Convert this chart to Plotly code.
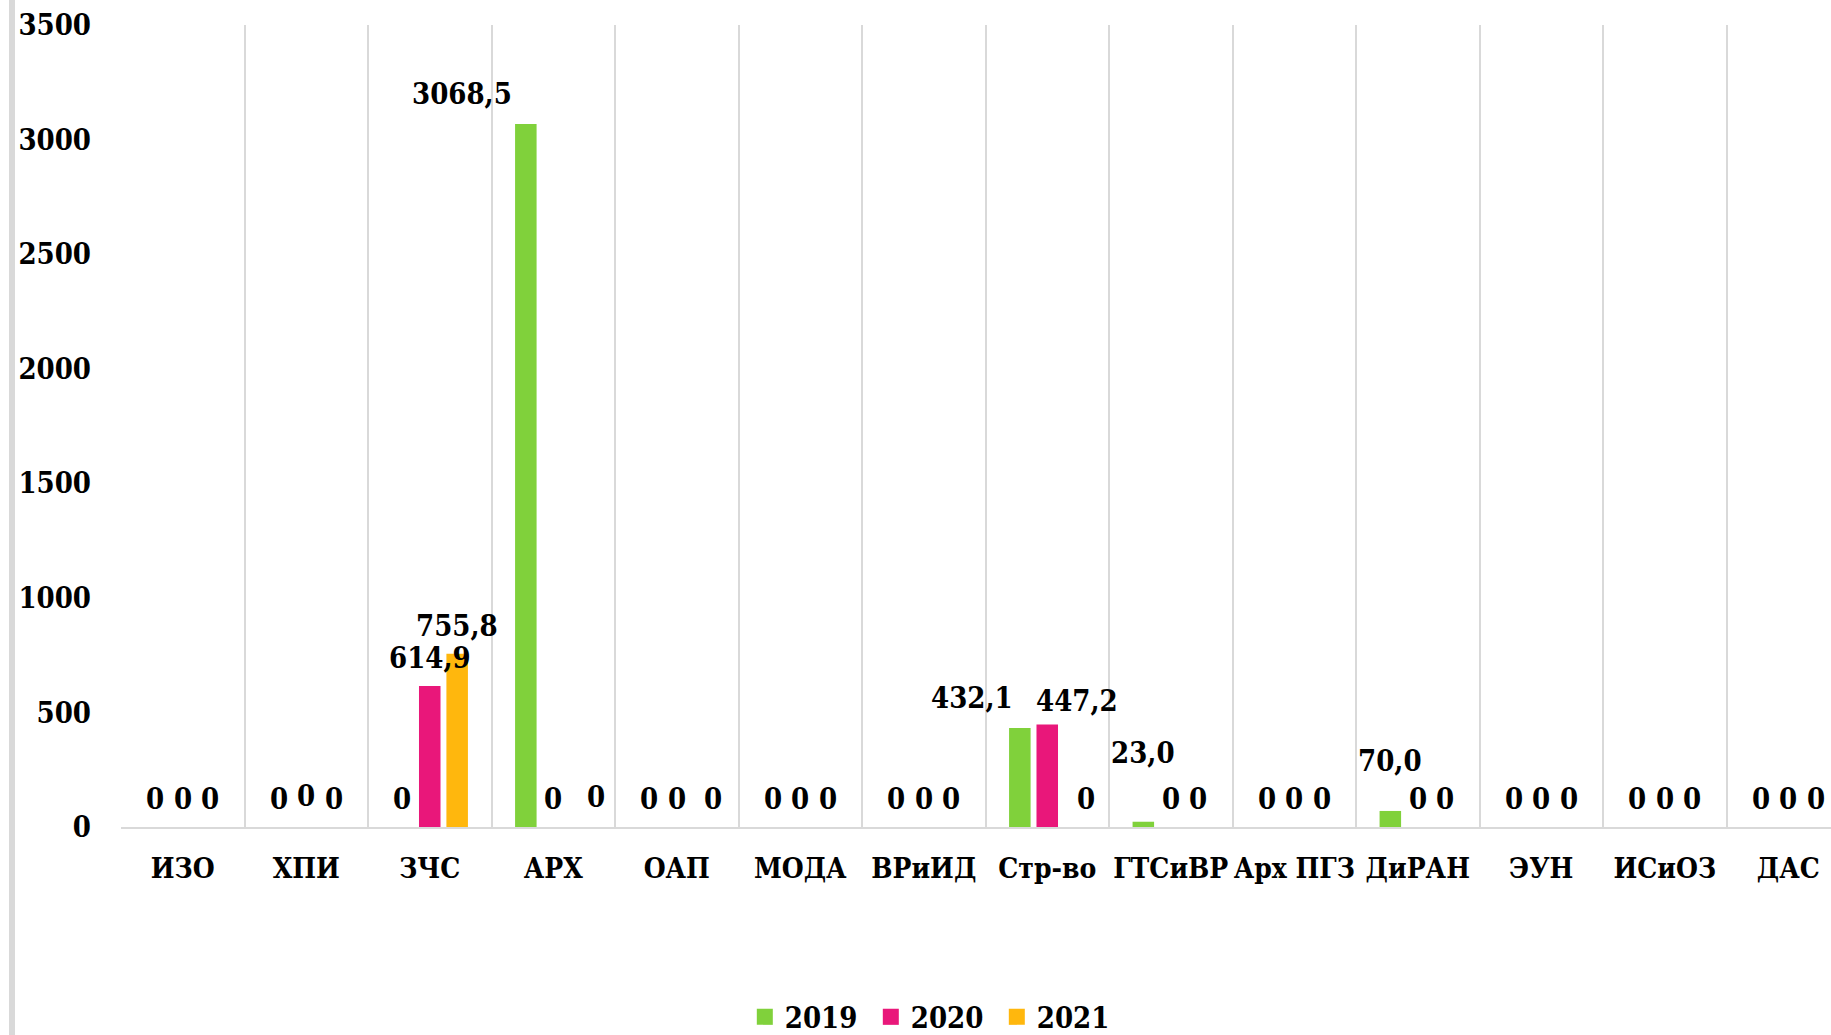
import plotly.graph_objects as go

# ---------------- data ----------------
categories = ["ИЗО", "ХПИ", "ЗЧС", "АРХ", "ОАП", "МОДА", "ВРиИД", "Стр-во",
              "ГТСиВР", "Арх ПГЗ", "ДиРАН", "ЭУН", "ИСиОЗ", "ДАС"]
years = ["2019", "2020", "2021"]
values_2019 = [0, 0, 0, 3068.5, 0, 0, 0, 432.1, 23.0, 0, 70.0, 0, 0, 0]
values_2020 = [0, 0, 614.9, 0, 0, 0, 0, 447.2, 0, 0, 0, 0, 0, 0]
values_2021 = [0, 0, 755.8, 0, 0, 0, 0, 0, 0, 0, 0, 0, 0, 0]
y_ticks = [0, 500, 1000, 1500, 2000, 2500, 3000, 3500]

series = [values_2019, values_2020, values_2021]
colors = ["#80D13B", "#E9177A", "#FFB70D"]

# ---------------- layout geometry ----------------
W, H = 1831, 1035
M_L, M_R, M_T, M_B = 121, 0, 25, 208
plot_w = W - M_L - M_R
plot_h = H - M_T - M_B
cat_px = 123.5
x_lo = -0.5
x_hi = x_lo + plot_w / cat_px
bargap = 0.334
bargroupgap = 0.215
slot = cat_px * (1 - bargap) / 3

FONT = "DejaVu Serif Condensed, DejaVu Serif, serif"
FS = 29

# manual label nudges (px) : (dx, dy)  dy positive = up
label_nudge = {
    ("2019", "АРХ"): (-64, 2),
    ("2021", "АРХ"): (15, 2),
    ("2019", "Стр-во"): (-48, 2),
    ("2020", "Стр-во"): (30, -4),
    ("2021", "Стр-во"): (11, 0),
    ("2019", "ГТСиВР"): (0, 41),
    ("2019", "ДиРАН"): (0, 22),
    ("2020", "ХПИ"): (0, 3),
    ("2021", "ОАП"): (9, 0),
}


def fmt(v):
    return "0" if v == 0 else f"{v:.1f}".replace(".", ",")


fig = go.Figure()
for yr, vals, col in zip(years, series, colors):
    fig.add_trace(go.Bar(
        x=categories, y=vals, name=yr, marker=dict(color=col, line=dict(width=0)),
        showlegend=False, hoverinfo="x+y",
    ))
    # legend proxy with larger square symbol
    fig.add_trace(go.Scatter(
        x=[None], y=[None], mode="markers", name=yr,
        marker=dict(symbol="square", size=17, color=col),
    ))

annotations = []
for i, (yr, vals) in enumerate(zip(years, series)):
    for cat, v in zip(categories, vals):
        dx, dy = label_nudge.get((yr, cat), (0, 0))
        annotations.append(dict(
            x=cat, y=v, xref="x", yref="y", text=fmt(v), showarrow=False,
            xanchor="center", yanchor="middle",
            xshift=(i - 1) * slot + dx, yshift=28 + dy,
            font=dict(family=FONT, size=FS, color="black", weight="bold"),
        ))

# light-gray vertical border at the far left of the chart area
bx = (12 - M_L) / plot_w
shapes = [dict(type="line", xref="paper", yref="paper",
               x0=bx, x1=bx, y0=-(M_B) / plot_h, y1=1 + M_T / plot_h,
               line=dict(color="#D9D9D9", width=6))]

fig.update_layout(
    width=W, height=H,
    margin=dict(l=M_L, r=M_R, t=M_T, b=M_B, pad=0),
    paper_bgcolor="white", plot_bgcolor="white",
    barmode="group", bargap=bargap, bargroupgap=bargroupgap,
    font=dict(family=FONT, size=FS, color="black", weight="bold"),
    annotations=annotations,
    shapes=shapes,
    legend=dict(
        orientation="h", xref="container", yref="container",
        x=0.510, xanchor="center", y=1 - 1017 / H, yanchor="middle",
        font=dict(family=FONT, size=FS, color="black", weight="bold"),
        itemwidth=30, entrywidth=81, traceorder="normal",
    ),
    xaxis=dict(
        type="category", range=[x_lo, x_hi], tickson="boundaries",
        showgrid=True, gridcolor="#D9D9D9", gridwidth=1.5,
        showline=True, linecolor="#D9D9D9", linewidth=2,
        ticks="", tickangle=0, ticklabelstandoff=15, fixedrange=True,
        tickfont=dict(family=FONT, size=28, color="black", weight="bold"),
    ),
    yaxis=dict(
        range=[0, 3500], tickvals=y_ticks, ticktext=[str(t) for t in y_ticks],
        showgrid=False, zeroline=False, showline=False, ticks="",
        ticklabelstandoff=29, fixedrange=True,
    ),
)

fig.write_html(
    "out.html",
    config={"displayModeBar": False},
    post_script="document.body.style.margin='0px';document.body.style.overflow='hidden';",
)
